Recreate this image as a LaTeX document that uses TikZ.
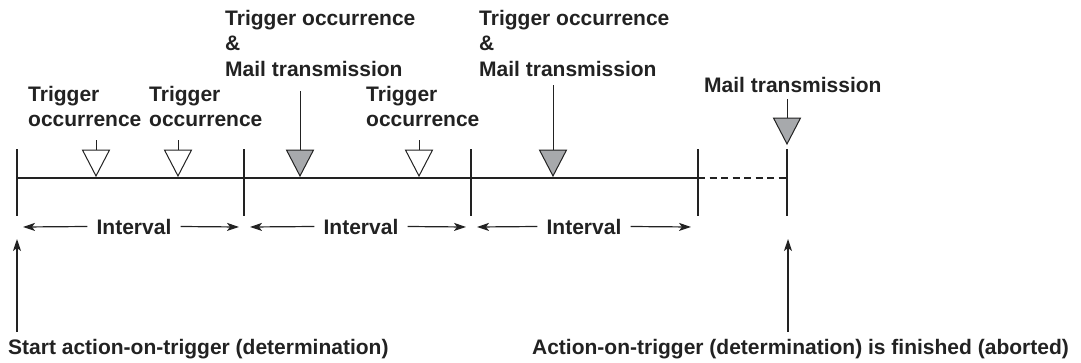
\documentclass[tikz,border=0pt]{standalone}
\usepackage{fontspec}
\setmainfont{Liberation Sans}
\usetikzlibrary{arrows.meta}
\definecolor{ink}{RGB}{34,34,34}
\definecolor{trigray}{RGB}{167,169,172}
\begin{document}
\begin{tikzpicture}[x=1pt,y=-1pt,
  txt/.style={font=\bfseries\fontsize{21}{25.5}\selectfont, inner sep=0pt, text=ink},
  lbl/.style={txt, align=left, anchor=north west},
  one/.style={txt, anchor=base west},
  ivl/.style={txt, anchor=base},
  thick line/.style={draw=ink, line width=2.2pt},
  tickmark/.style={draw=ink, line width=2.2pt},
  dashline/.style={draw=ink, line width=2pt, dash pattern=on 7pt off 4.5pt},
  stem/.style={draw=ink, line width=1pt},
  arr/.style={draw=ink, line width=1.2pt, -{Stealth[length=12pt, width=8pt, inset=3pt]}},
  opentri/.style={draw=ink, line width=1pt, fill=white, line join=miter},
  graytri/.style={draw=ink, line width=1pt, fill=trigray, line join=miter},
]
\useasboundingbox (0,0) rectangle (1081,362);

% tick positions on the time line
\coordinate (k1) at (17,178);
\coordinate (k2) at (244,178);
\coordinate (k3) at (471,178);
\coordinate (k4) at (698,178);
\coordinate (k5) at (787,178);

% time line
\draw[thick line] (k1) -- (k4);
\draw[dashline] (k4) -- (k5);

% ticks
\foreach \k in {k1,k2,k3,k4,k5}{
  \draw[tickmark] ([yshift=29pt]\k) -- ([yshift=-38pt]\k);
}

% labels
\node[lbl] (L1) at (28,86) {Trigger\\occurrence};
\node[lbl] (L2) at (149,86) {Trigger\\occurrence};
\node[lbl] (L3) at (225,10) {Trigger occurrence\\\&\\Mail transmission};
\node[lbl] (L5) at (366,86) {Trigger\\occurrence};
\node[lbl] (L4) at (479,10) {Trigger occurrence\\\&\\Mail transmission};
\node[lbl] (L6) at (704,77) {Mail transmission};

% markers: stem top coordinates and triangle tips
\coordinate (s1) at (96,140);  \coordinate (a1) at (96,150);  \coordinate (p1) at (96,176);
\coordinate (s2) at (178,140); \coordinate (a2) at (178,150); \coordinate (p2) at (178,176);
\coordinate (s3) at (300,91);  \coordinate (a3) at (300,150); \coordinate (p3) at (300,176);
\coordinate (s4) at (419,140); \coordinate (a4) at (419,150); \coordinate (p4) at (419,176);
\coordinate (s5) at (553,85);  \coordinate (a5) at (553,150); \coordinate (p5) at (553,176);
\coordinate (s6) at (787,99);  \coordinate (a6) at (787,118); \coordinate (p6) at (787,144);

\draw[stem] (s1) -- (a1);
\draw[stem] (s2) -- (a2);
\draw[stem] (s3) -- (a3);
\draw[stem] (s4) -- (a4);
\draw[stem] (s5) -- (a5);
\draw[stem] (s6) -- (a6);

\draw[opentri] ([xshift=-13.5pt]a1) -- ([xshift=13.5pt]a1) -- (p1) -- cycle;
\draw[opentri] ([xshift=-13.5pt]a2) -- ([xshift=13.5pt]a2) -- (p2) -- cycle;
\draw[graytri] ([xshift=-13.5pt]a3) -- ([xshift=13.5pt]a3) -- (p3) -- cycle;
\draw[opentri] ([xshift=-13.5pt]a4) -- ([xshift=13.5pt]a4) -- (p4) -- cycle;
\draw[graytri] ([xshift=-13.5pt]a5) -- ([xshift=13.5pt]a5) -- (p5) -- cycle;
\draw[graytri] ([xshift=-13.5pt]a6) -- ([xshift=13.5pt]a6) -- (p6) -- cycle;

% intervals
\node[ivl] (I1) at (134,234) {Interval};
\node[ivl] (I2) at (361,234) {Interval};
\node[ivl] (I3) at (584,234) {Interval};
\coordinate (e1l) at (23,227);  \coordinate (e1r) at (239,227);
\coordinate (e2l) at (250,227); \coordinate (e2r) at (466,227);
\coordinate (e3l) at (477,227); \coordinate (e3r) at (691,227);
\draw[arr] ([xshift=-9pt]I1.west) -- (e1l);
\draw[arr] ([xshift=9pt]I1.east) -- (e1r);
\draw[arr] ([xshift=-9pt]I2.west) -- (e2l);
\draw[arr] ([xshift=9pt]I2.east) -- (e2r);
\draw[arr] ([xshift=-9pt]I3.west) -- (e3l);
\draw[arr] ([xshift=9pt]I3.east) -- (e3r);

% bottom labels and arrows
\node[one] (B1) at (8,354) {Start action-on-trigger (determination)};
\node[one, anchor=base east] (B2) at (1069,354) {Action-on-trigger (determination) is finished (aborted)};
\coordinate (b1s) at (17,332); \coordinate (b1e) at (17,239);
\coordinate (b2s) at (788,332); \coordinate (b2e) at (788,239);
\draw[arr] (b1s) -- (b1e);
\draw[arr] (b2s) -- (b2e);
\end{tikzpicture}
\end{document}
